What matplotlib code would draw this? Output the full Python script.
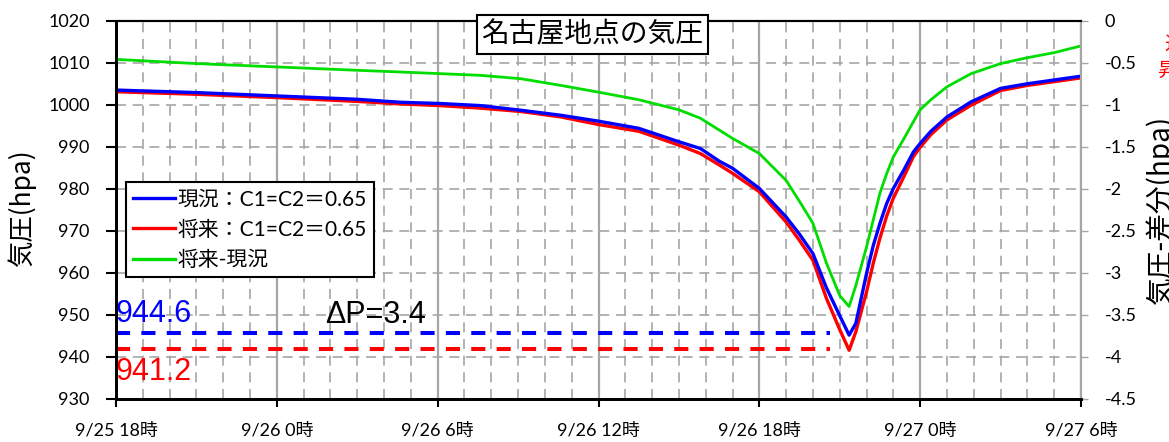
import matplotlib
matplotlib.use('Agg')
from matplotlib import pyplot as plt
from matplotlib.lines import Line2D
import numpy as np

plt.rcParams['font.family'] = ['Lato', 'Noto Sans CJK JP', 'DejaVu Sans']

# hours since 9/25 18時
hours = [0, 3, 6, 9, 10.6, 12.1, 13.6, 15.1, 16.6, 18, 19.5, 21, 21.8, 22.5, 23, 24, 25,
         25.5, 26, 26.5, 27, 27.35, 27.6, 28, 28.25, 28.5, 28.75, 29, 29.4, 29.75, 30,
         30.4, 31, 31.9, 33, 34, 35, 36]
# 現況 (hpa)
genkyo = [1003.5, 1002.9, 1002.1, 1001.3, 1000.6, 1000.3, 999.8, 998.7, 997.5, 996.1,
          994.4, 991.2, 989.6, 986.6, 984.9, 980.1, 973.3, 969.2, 964.6, 956.5, 949.8,
          945.2, 948.0, 959.9, 966.5, 971.8, 976.5, 980.1, 984.6, 988.8, 990.8, 993.7,
          997.1, 1000.7, 1003.9, 1005.0, 1005.9, 1006.8]
# 将来 (hpa)
shorai = [1003.1, 1002.5, 1001.7, 1000.8, 1000.2, 999.8, 999.2, 998.4, 997.1, 995.3,
          993.7, 990.4, 988.4, 985.7, 983.7, 979.3, 972.1, 967.7, 963.0, 954.0, 946.5,
          941.6, 946.0, 955.5, 962.3, 968.3, 973.5, 977.8, 983.0, 987.7, 989.9, 992.9,
          996.4, 999.9, 1003.4, 1004.6, 1005.5, 1006.4]
# 将来-現況 (right axis)
sabun = [-0.46, -0.51, -0.55, -0.59, -0.61, -0.63, -0.65, -0.69, -0.77, -0.85, -0.94,
         -1.06, -1.16, -1.30, -1.40, -1.58, -1.90, -2.15, -2.41, -2.88, -3.27, -3.40,
         -3.15, -2.69, -2.37, -2.05, -1.82, -1.62, -1.40, -1.20, -1.06, -0.94, -0.786,
         -0.63, -0.51, -0.44, -0.38, -0.30]

min_lines = [945.6, 941.8]
min_end = 26.65
min_labels = ['944.6', '941.2']
dp_label = 'ΔP=3.4'

xtick_pos = [0, 6, 12, 18, 24, 30, 36]
xtick_labels = ['9/25 18時', '9/26 0時', '9/26 6時', '9/26 12時', '9/26 18時', '9/27 0時', '9/27 6時']

fig = plt.figure(figsize=(11.69, 4.42), dpi=100)
ax = fig.add_axes([116/1169, 43/442, (1081-116)/1169, (399-20.7)/442])
ax2 = ax.twinx()

gray = '#a6a6a6'
ax.set_xlim(0, 36)
ax.set_ylim(930, 1020)
ax.set_yticks(np.arange(930, 1021, 10))
ax.set_xticks(xtick_pos)
ax.set_xticklabels(xtick_labels)
ax.set_xticks(np.arange(0, 37, 1), minor=True)
ax.grid(which='major', axis='x', color=gray, lw=1.6, ls='-')
ax.grid(which='minor', axis='x', color=gray, lw=1.2, ls=(0, (6, 4)))
ax.grid(which='major', axis='y', color=gray, lw=1.2, ls=(0, (6, 4)))
ax.set_axisbelow(True)
ax.tick_params(axis='x', which='major', direction='out', length=6, width=1.5, pad=11, labelsize=13)
ax.tick_params(axis='x', which='minor', length=0)
ax.tick_params(axis='y', direction='out', length=7, width=1.5, pad=12, labelsize=13)

ax2.set_ylim(-4.5, 0)
ax2.set_yticks(np.arange(-4.5, 0.01, 0.5))
ax2.set_yticklabels(['-4.5', '-4', '-3.5', '-3', '-2.5', '-2', '-1.5', '-1', '-0.5', '0'])
ax2.tick_params(axis='y', direction='out', length=5, width=1, color=gray, pad=12, labelsize=13)

for a in (ax, ax2):
    a.spines['left'].set_linewidth(2)
    a.spines['bottom'].set_linewidth(2)
    a.spines['top'].set_linewidth(1.5)
    a.spines['right'].set_color(gray)
    a.spines['right'].set_linewidth(1.5)

ax.plot(hours, shorai, color='#ff0000', lw=2.4, solid_joinstyle='round')
ax.plot(hours, genkyo, color='#0000ff', lw=2.4, solid_joinstyle='round')
ax2.plot(hours, sabun, color='#00dd00', lw=2.0, solid_joinstyle='round')

ax.plot([0, min_end], [min_lines[0]] * 2, color='#0000ff', lw=2.9, ls=(0, (3.5, 2.8)))
ax.plot([0, min_end], [min_lines[1]] * 2, color='#ff0000', lw=2.9, ls=(0, (3.5, 2.8)))

big = dict(fontsize=22, family=['Liberation Sans', 'DejaVu Sans'], va='center')
ax.text(0, 950.3, min_labels[0], color='#0000ff', ha='left', **big)
ax.text(0, 936.4, min_labels[1], color='#ff0000', ha='left', **big)
ax.text(7.8, 950.0, dp_label, color='black', ha='left', **big)

handles = [Line2D([], [], color='#0000ff', lw=2.4),
           Line2D([], [], color='#ff0000', lw=2.4),
           Line2D([], [], color='#00dd00', lw=2.4)]
labels = ['現況：C1=C2＝0.65', '将来：C1=C2＝0.65', '将来-現況']
leg = ax2.legend(handles, labels, loc='upper left', bbox_to_anchor=(126/1169, 1-182/442),
                 bbox_transform=fig.transFigure, fancybox=False, framealpha=1,
                 edgecolor='black', fontsize=15, handlelength=2.0, handletextpad=0.1,
                 labelspacing=0.5, borderpad=0.35, borderaxespad=0)
leg.get_frame().set_linewidth(1.5)
leg.set_zorder(10)

fig.text(592.5/1169, 1-34.5/442, '名古屋地点の気圧', fontsize=20, ha='center', va='center',
         family=['Noto Sans CJK JP'], zorder=20,
         bbox=dict(boxstyle='square,pad=0.15', fc='white', ec='black', lw=1.5))

fig.text(22/1169, 1-208/442, '気圧(hpa)', fontsize=19, rotation=90, ha='center', va='center',
         family=['Noto Sans CJK JP', 'DejaVu Sans'])
fig.text(1161/1169, 1-209/442, '気圧-差分(hpa)', fontsize=20, rotation=90, ha='center',
         va='center', family=['Noto Sans CJK JP', 'DejaVu Sans'])
fig.text(1164/1169, 1-45/442, '近', fontsize=14, color='#ff0000', ha='left', va='center',
         family=['Noto Sans CJK JP'])
fig.text(1157/1169, 1-70/442, '昇', fontsize=14, color='#ff0000', ha='left', va='center',
         family=['Noto Sans CJK JP'])

fig.savefig('out.png', dpi=100)
